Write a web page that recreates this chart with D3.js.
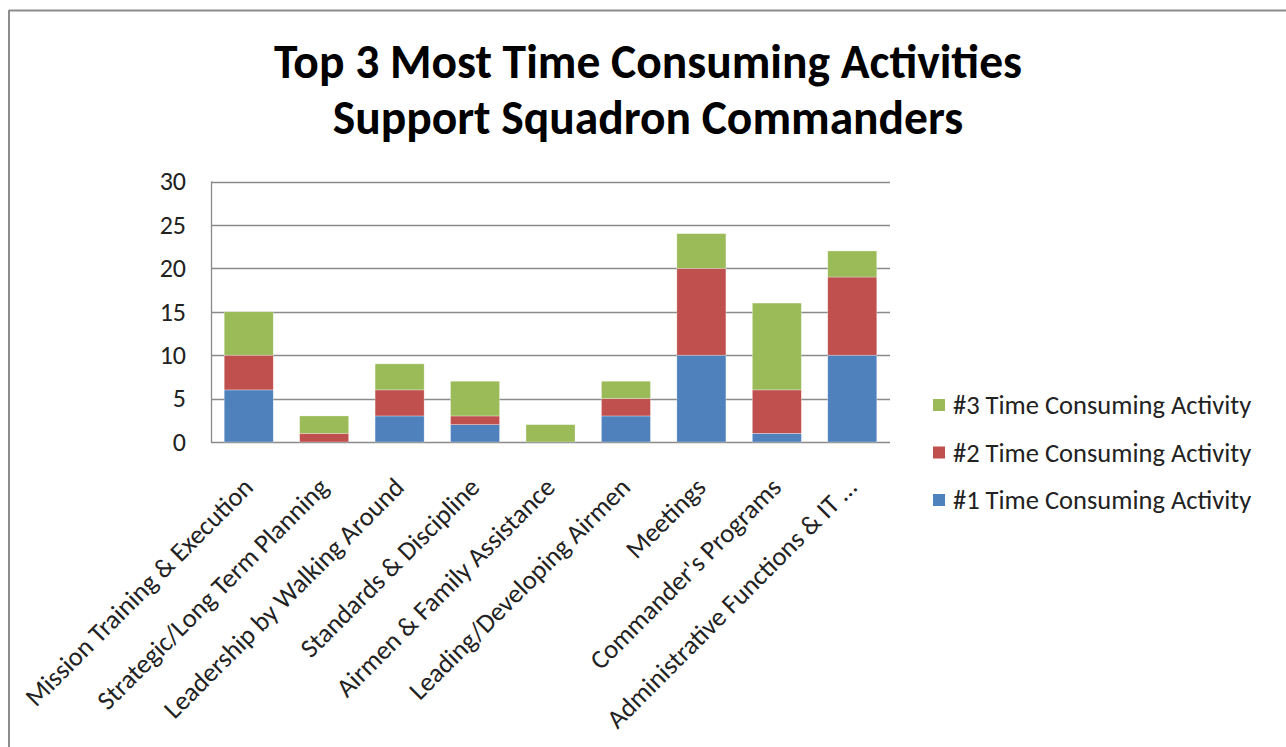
<!DOCTYPE html>
<html><head><meta charset="utf-8">
<script src="https://cdn.jsdelivr.net/npm/d3@7"></script>
<style>
html,body{margin:0;padding:0;background:#fff;}
svg{display:block;}
text{font-family:Carlito,Calibri,"Open Sans","Noto Sans",sans-serif;}
</style></head><body>
<svg id="c" width="1286" height="747"></svg>
<script>
const categories = ["Mission Training & Execution","Strategic/Long Term Planning","Leadership by Walking Around","Standards & Discipline","Airmen & Family Assistance","Leading/Developing Airmen","Meetings","Commander's Programs","Administrative Functions & IT \u2026"];
const seriesNames = ["#1 Time Consuming Activity","#2 Time Consuming Activity","#3 Time Consuming Activity"];
const first  = [6,0,3,2,0,3,10,1,10];
const second = [4,1,3,1,0,2,10,5,9];
const third  = [5,2,3,4,2,2,4,10,3];
const yTicks = [0,5,10,15,20,25,30];
const colors = ["#4F81BD","#C0504D","#9BBB59"];
const titleLines = ["Top 3 Most Time Consuming Activities","Support Squadron Commanders"];

const svg = d3.select("#c");
// frame
svg.append("line").attr("x1",9).attr("x2",1286).attr("y1",10.5).attr("y2",10.5).attr("stroke","#8c8c8c").attr("stroke-width",2);
svg.append("line").attr("x1",9).attr("x2",9).attr("y1",10).attr("y2",747).attr("stroke","#8c8c8c").attr("stroke-width",2);

// title
svg.append("text").attr("x",648).attr("y",78).attr("text-anchor","middle").attr("font-size",47.5).attr("font-weight","bold").attr("fill","#000").text(titleLines[0]);
svg.append("text").attr("x",648).attr("y",134).attr("text-anchor","middle").attr("font-size",47.5).attr("font-weight","bold").attr("fill","#000").text(titleLines[1]);

const x = d3.scaleBand().domain(categories).range([211,890]).paddingInner(0.35).paddingOuter(0.175);
const y = d3.scaleLinear().domain([0,30]).range([442,181.5]);

// gridlines
svg.append("g").selectAll("line").data(yTicks).join("line")
  .attr("x1",211).attr("x2",890).attr("y1",d=>Math.round(y(d))+0.5).attr("y2",d=>Math.round(y(d))+0.5)
  .attr("stroke","#8a8a8a").attr("stroke-width",1.3);
svg.append("line").attr("x1",211.5).attr("x2",211.5).attr("y1",y(30)).attr("y2",y(0)+0.5).attr("stroke","#8a8a8a").attr("stroke-width",1.3);

// y axis labels
const yAxis = d3.axisLeft(y).tickValues(yTicks).tickSize(0).tickPadding(25);
const ga = svg.append("g").attr("transform","translate(211,0)").call(yAxis);
ga.select(".domain").remove();
ga.selectAll("text").attr("font-size",26).attr("fill","#222").attr("font-family",'Carlito,Calibri,"Open Sans","Noto Sans",sans-serif');

// stacked bars
const rows = categories.map((c,i)=>({cat:c, s0:first[i], s1:second[i], s2:third[i]}));
const stack = d3.stack().keys(["s0","s1","s2"])(rows);
svg.append("g").selectAll("g").data(stack).join("g").attr("fill",(d,i)=>colors[i])
  .selectAll("rect").data(d=>d).join("rect")
  .attr("x",d=>x(d.data.cat)).attr("width",x.bandwidth())
  .attr("y",d=>y(d[1])).attr("height",d=>y(d[0])-y(d[1]))
  .attr("stroke","rgba(255,255,255,0.5)").attr("stroke-width",0.6);

// category labels
svg.append("g").selectAll("text").data(categories).join("text")
  .attr("transform",d=>`translate(${x(d)+x.bandwidth()/2+6},${489}) rotate(-45)`)
  .attr("text-anchor","end").attr("font-size",26.5).attr("fill","#222").text(d=>d);

// legend
const legendOrder = [2,1,0];
const lg = svg.append("g").selectAll("g").data(legendOrder).join("g")
  .attr("transform",(d,i)=>`translate(933,${405+i*47.5})`);
lg.append("rect").attr("x",0).attr("y",-6).attr("width",12).attr("height",12).attr("fill",d=>colors[d]);
lg.append("text").attr("x",20).attr("y",9).attr("font-size",26.5).attr("fill","#222").text(d=>seriesNames[d]);
</script>
</body></html>
